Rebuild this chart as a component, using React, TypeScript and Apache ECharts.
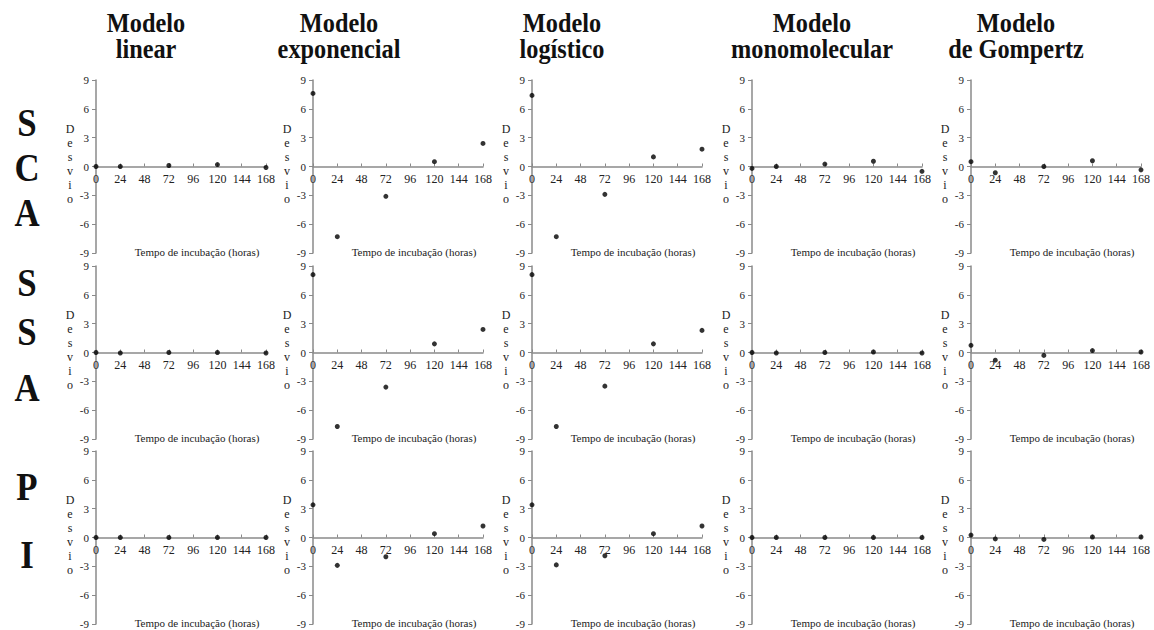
import React, { useEffect, useRef } from "react";
import * as echarts from "echarts";

const hours = [0, 24, 72, 120, 168];
const modelTitles = [
  ["Modelo", "linear"],
  ["Modelo", "exponencial"],
  ["Modelo", "logístico"],
  ["Modelo", "monomolecular"],
  ["Modelo", "de Gompertz"],
];
const rowLabels = [["S", "C", "A"], ["S", "S", "A"], ["P", "I"]];
const yAxisName = "Desvio";
const xAxisName = "Tempo de incubação (horas)";

// SCA
const scaLinear = [0, 0, 0.1, 0.2, -0.1];
const scaExponencial = [7.6, -7.3, -3.1, 0.5, 2.4];
const scaLogistico = [7.4, -7.3, -2.9, 1.0, 1.8];
const scaMonomolecular = [-0.2, 0, 0.25, 0.55, -0.5];
const scaGompertz = [0.5, -0.65, 0, 0.6, -0.35];
// SSA
const ssaLinear = [0, -0.05, 0, 0, -0.05];
const ssaExponencial = [8.1, -7.7, -3.6, 0.9, 2.4];
const ssaLogistico = [8.1, -7.7, -3.5, 0.9, 2.3];
const ssaMonomolecular = [0, -0.05, 0, 0.05, -0.05];
const ssaGompertz = [0.75, -0.8, -0.3, 0.2, 0.05];
// PI
const piLinear = [0, 0, 0, 0, 0];
const piExponencial = [3.4, -2.9, -2.0, 0.4, 1.2];
const piLogistico = [3.4, -2.85, -1.9, 0.4, 1.2];
const piMonomolecular = [0, 0, 0, 0, 0];
const piGompertz = [0.25, -0.15, -0.2, 0.05, 0.05];

const rows = [
  [scaLinear, scaExponencial, scaLogistico, scaMonomolecular, scaGompertz],
  [ssaLinear, ssaExponencial, ssaLogistico, ssaMonomolecular, ssaGompertz],
  [piLinear, piExponencial, piLogistico, piMonomolecular, piGompertz],
];

// layout
const colLeft = [96, 313, 532, 752, 971];
const rowTop = [80, 266, 451];
const gridW = 170;
const gridH = 173;
const titleCenters = [146, 339, 562, 812, 1016];
const rowLetterY = [[123, 168, 213], [283, 332, 388], [487, 555]];

const FONT = '"Liberation Serif", "Times New Roman", serif';
const AXIS_COLOR = "#8a8a8a";
const TEXT_COLOR = "#222";

export default function App() {
  const ref = useRef<HTMLDivElement>(null);
  useEffect(() => {
    if (!ref.current) return;
    const chart = echarts.init(ref.current, undefined, { renderer: "svg" });
    const grids: any[] = [];
    const xAxes: any[] = [];
    const yAxes: any[] = [];
    const series: any[] = [];
    const graphic: any[] = [];
    let idx = 0;
    rows.forEach((row, r) => {
      row.forEach((vals, c) => {
        grids.push({ left: colLeft[c], top: rowTop[r], width: gridW, height: gridH, containLabel: false });
        xAxes.push({
          type: "value",
          gridIndex: idx,
          position: "bottom",
          offset: -gridH / 2,
          min: 0,
          max: 168,
          interval: 24,
          axisLine: { onZero: false, lineStyle: { color: AXIS_COLOR, width: 1.5 } },
          axisTick: { show: true, inside: true, length: 3, lineStyle: { color: AXIS_COLOR } },
          axisLabel: { color: TEXT_COLOR, fontFamily: FONT, fontSize: 12, margin: 6 },
          splitLine: { show: false },
        });
        yAxes.push({
          type: "value",
          gridIndex: idx,
          min: -9,
          max: 9,
          interval: 3,
          axisLine: { show: true, onZero: false, lineStyle: { color: AXIS_COLOR, width: 1.5 } },
          axisTick: { show: true, length: 4, lineStyle: { color: AXIS_COLOR } },
          axisLabel: { color: TEXT_COLOR, fontFamily: FONT, fontSize: 11, margin: 7 },
          splitLine: { show: false },
        });
        series.push({
          type: "scatter",
          xAxisIndex: idx,
          yAxisIndex: idx,
          symbol: "circle",
          symbolSize: 5,
          itemStyle: { color: "#000" },
          data: hours.map((h, i) => [h, vals[i]]),
        });
        const zeroY = rowTop[r] + gridH / 2;
        graphic.push({
          type: "text",
          x: colLeft[c] - 26,
          y: zeroY - 3,
          style: {
            text: yAxisName.split("").join("\n"),
            font: `12px ${FONT}`,
            fill: TEXT_COLOR,
            align: "center",
            verticalAlign: "middle",
            lineHeight: 14,
          },
        });
        graphic.push({
          type: "text",
          x: colLeft[c] + 101,
          y: rowTop[r] + gridH - 1,
          style: {
            text: xAxisName,
            font: `11px ${FONT}`,
            fill: TEXT_COLOR,
            align: "center",
            verticalAlign: "middle",
          },
        });
        idx++;
      });
    });
    modelTitles.forEach((t, c) => {
      t.forEach((line, l) => {
        graphic.push({
          type: "text",
          x: titleCenters[c],
          y: l === 0 ? 23 : 49,
          scaleX: 0.9,
          style: {
            text: line,
            font: `bold 27px ${FONT}`,
            fill: "#111",
            align: "center",
            verticalAlign: "middle",
          },
        });
      });
    });
    rowLabels.forEach((letters, r) => {
      letters.forEach((ch, i) => {
        graphic.push({
          type: "text",
          x: 27,
          y: rowLetterY[r][i],
          scaleX: 0.87,
          style: {
            text: ch,
            font: `bold 40px ${FONT}`,
            fill: "#111",
            align: "center",
            verticalAlign: "middle",
          },
        });
      });
    });
    chart.setOption({
      animation: false,
      backgroundColor: "#fff",
      grid: grids,
      xAxis: xAxes,
      yAxis: yAxes,
      series,
      graphic,
    });
    return () => chart.dispose();
  }, []);
  return (
    <div
      ref={ref}
      style={{ position: "fixed", left: 0, top: 0, width: 1154, height: 630 }}
    />
  );
}
